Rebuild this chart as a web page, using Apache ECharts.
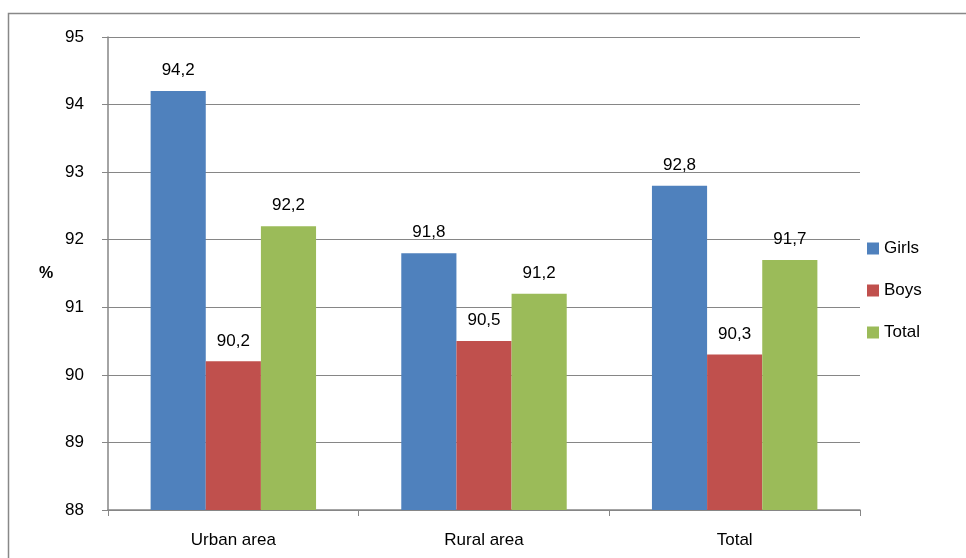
<!DOCTYPE html>
<html>
<head>
<meta charset="utf-8">
<script src="https://cdn.jsdelivr.net/npm/echarts@6/dist/echarts.min.js"></script>
<style>
html, body { margin: 0; padding: 0; background: #fff; }
#main { width: 966px; height: 558px; }
</style>
</head>
<body>
<div id="main"></div>
<script>
var categories = ['Urban area', 'Rural area', 'Total'];
var girls = [94.2, 91.8, 92.8];
var boys = [90.2, 90.5, 90.3];
var total = [92.2, 91.2, 91.7];

var font = 'Liberation Sans';
var labelOpt = {
    show: true,
    position: 'top',
    distance: 12,
    color: '#000',
    fontFamily: font,
    fontSize: 17,
    formatter: function (p) { return String(p.value).replace('.', ','); }
};

var myChart = echarts.init(document.getElementById('main'));
myChart.setOption({
    animation: false,
    textStyle: { fontFamily: font },
    graphic: [
        { type: 'rect', shape: { x: 8.5, y: 13.5, width: 1000, height: 600 },
          style: { fill: null, stroke: '#888', lineWidth: 1.5 }, silent: true },
        { type: 'text', left: 39, top: 266,
          style: { text: '%', fontFamily: font, fontSize: 16, fontWeight: 'bold', fill: '#000' } }
    ],
    legend: {
        orient: 'vertical',
        left: 862,
        top: 235,
        itemWidth: 12,
        itemHeight: 12,
        itemGap: 25,
        icon: 'rect',
        textStyle: { fontSize: 17, color: '#000', fontFamily: font },
        data: ['Girls', 'Boys', 'Total']
    },
    grid: { left: 108, right: 106, top: 37, bottom: 48 },
    xAxis: {
        type: 'category',
        data: categories,
        axisLine: { lineStyle: { color: '#868686', width: 1.5 } },
        axisTick: { show: true, length: 6, lineStyle: { color: '#868686' } },
        axisLabel: { color: '#000', fontSize: 17, margin: 22, fontFamily: font }
    },
    yAxis: {
        type: 'value',
        min: 88,
        max: 95,
        interval: 1,
        axisLine: { show: true, lineStyle: { color: '#868686', width: 1.5 } },
        axisTick: { show: true, length: 6, lineStyle: { color: '#868686' } },
        axisLabel: { color: '#000', fontSize: 17, margin: 24, fontFamily: font },
        splitLine: { lineStyle: { color: '#868686', width: 1.2 } }
    },
    series: [
        { name: 'Girls', type: 'bar', data: girls, barGap: '0%', barCategoryGap: '34%',
          itemStyle: { color: '#4F81BD' }, label: labelOpt },
        { name: 'Boys', type: 'bar', data: boys,
          itemStyle: { color: '#C0504D' }, label: labelOpt },
        { name: 'Total', type: 'bar', data: total,
          itemStyle: { color: '#9BBB59' }, label: labelOpt }
    ]
});
</script>
</body>
</html>
